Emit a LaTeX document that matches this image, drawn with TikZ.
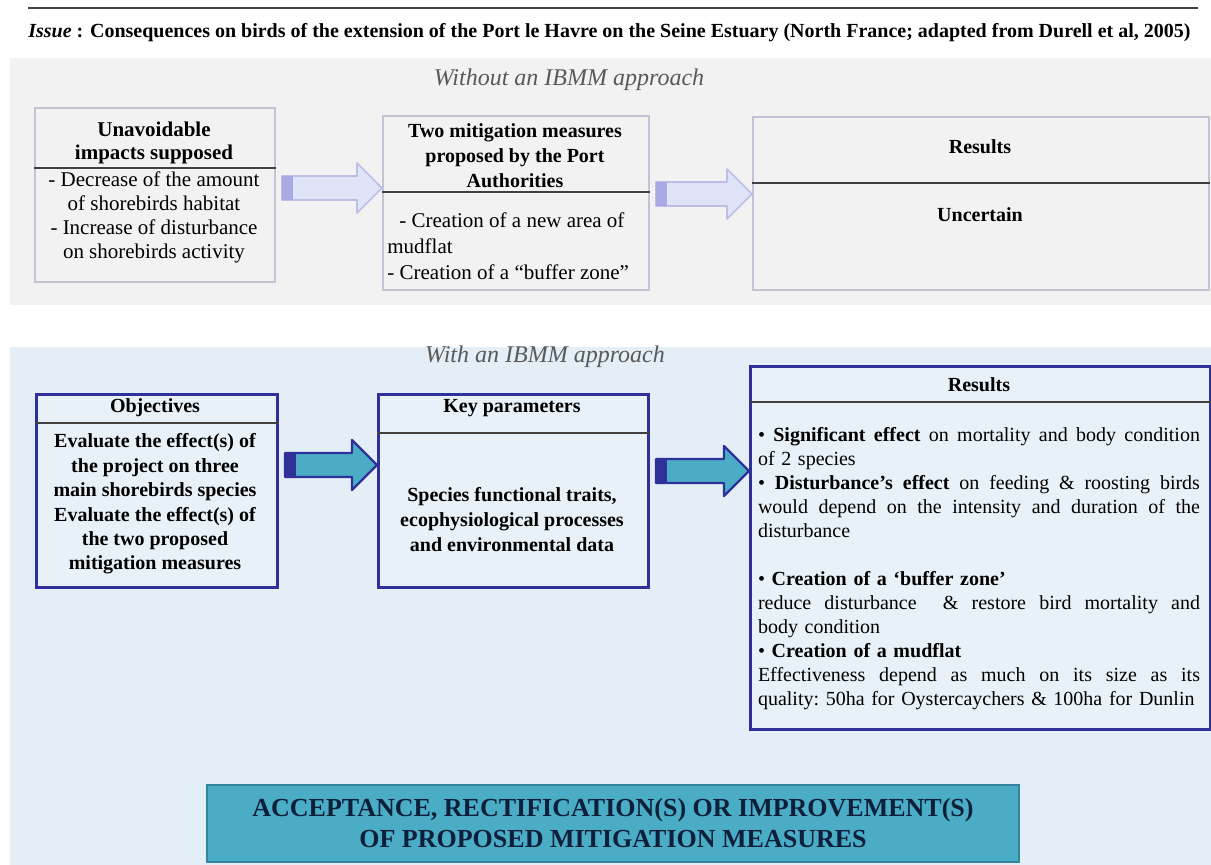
\documentclass[tikz,border=0pt]{standalone}
\usepackage{fontspec}
\setmainfont{Liberation Serif}
\usetikzlibrary{calc}
\definecolor{panelgray}{HTML}{F2F2F2}
\definecolor{panelblue}{HTML}{E3EEF6}
\definecolor{boxblue}{HTML}{E8F1F8}
\definecolor{graylilac}{HTML}{C3C3D6}
\definecolor{darkline}{HTML}{404040}
\definecolor{navyline}{HTML}{30309A}
\definecolor{accentteal}{HTML}{4BACC6}
\definecolor{darkteal}{HTML}{31849B}
\definecolor{lilacfill}{HTML}{DFE3F7}
\definecolor{lilacdraw}{HTML}{BDBDE6}
\definecolor{lilactail}{HTML}{A9A9E3}
\definecolor{headgray}{HTML}{595959}
\definecolor{accepttext}{HTML}{0E1F3A}
\newcommand\jline[1]{{\spaceskip=0pt\xspaceskip=0pt\makebox[221pt][s]{#1}}}

\begin{document}
\begin{tikzpicture}[x=0.5pt,y=-0.5pt]
	\tikzset{
		graybox/.style={rectangle, draw=graylilac, line width=1pt, fill=panelgray, anchor=north west, inner sep=0pt},
		bluebox/.style={rectangle, draw=navyline, line width=1.5pt, fill=boxblue, anchor=north west, inner sep=0pt},
		divider/.style={draw=darkline, line width=0.6pt},
		headtext/.style={align=center, inner sep=0pt, font=\bfseries\fontsize{10}{12}\selectfont},
		bodytext/.style={align=center, inner sep=0pt, font=\fontsize{10.5}{12}\selectfont},
		approach/.style={inner sep=0pt, text=headgray, font=\itshape\fontsize{12}{14}\selectfont},
		lightarrow/.style={draw=lilacdraw, line width=0.8pt, fill=lilacfill, line join=round},
		lighttail/.style={fill=lilactail},
		bluearrow/.style={draw=navyline, line width=1.2pt, fill=accentteal, line join=round},
		bluetail/.style={fill=navyline}
	}
	\newcommand\BlockArrow[4]{%
		\coordinate (bs) at ($(#2.east |- #4)+(6,0)$);
		\coordinate (bt) at (#3.west |- #4);
		\draw[#1arrow] ($(bs)+(0,-12)$) -- ($(bt)+(-25,-12)$) -- ($(bt)+(-25,-25)$) -- (bt)
			-- ($(bt)+(-25,25)$) -- ($(bt)+(-25,12)$) -- ($(bs)+(0,12)$) -- cycle;
		\fill[#1tail] ($(bs)+(0,-12)$) rectangle ($(bs)+(11,12)$);
	}
	\useasboundingbox (0,0) rectangle (1211,865);

	% background panels and heading
	\fill[panelgray] (10,58) rectangle (1211,305);
	\fill[panelblue] (10,347) rectangle (1211,865);
	\draw[darkline, line width=1pt] (28,8) -- (1198,8);
	\node[anchor=west, inner sep=0pt, font=\bfseries\fontsize{10}{12}\selectfont] (issue) at (28,33)
		{\textit{Issue} : Consequences on birds of the extension of the Port le Havre on the Seine Estuary (North France; adapted from Durell et al, 2005)};
	\node[approach] (without) at (569,80) {Without an IBMM approach};
	\node[approach] (with) at (545,357) {With an IBMM approach};

	% without IBMM
	\node[graybox, minimum width=120pt, minimum height=87pt] (unav) at (34,107) {};
	\draw[divider] ($(unav.north west)+(0,61)$) -- ($(unav.north east)+(0,61)$);
	\node[headtext, font=\bfseries\fontsize{10.5}{11.5}\selectfont] (unavhead) at (154,143) {Unavoidable\\impacts supposed};
	\node[bodytext] (unavbody) at (154,217) {- Decrease of the amount\\of shorebirds habitat\\- Increase of disturbance\\on shorebirds activity};

	\node[graybox, minimum width=133pt, minimum height=87pt] (mitig) at (382,115) {};
	\draw[divider] ($(mitig.north west)+(0,77)$) -- ($(mitig.north east)+(0,77)$);
	\node[headtext, font=\bfseries\fontsize{10}{12.5}\selectfont] (mitighead) at (515,156) {Two mitigation measures\\proposed by the Port\\Authorities};
	\node[bodytext, align=left, anchor=west, font=\fontsize{10.5}{13}\selectfont] (mitigbody) at (387,246)
		{\hspace{6pt}- Creation of a new area of\\mudflat\\- Creation of a “buffer zone”};

	\node[graybox, minimum width=228pt, minimum height=86.5pt] (resA) at (752,116) {};
	\draw[divider] ($(resA.north west)+(0,67)$) -- ($(resA.north east)+(0,67)$);
	\node[headtext] (resAhead) at (980,147) {Results};
	\node[headtext] (resAbody) at (980,215) {Uncertain};

	\coordinate (row1) at (0,188);
	\coordinate (row2) at (0,194);
	\BlockArrow{light}{unav}{mitig}{row1}
	\BlockArrow{light}{mitig}{resA}{row2}

	% with IBMM
	\node[bluebox, minimum width=120.5pt, minimum height=96.5pt] (obj) at (35,393) {};
	\draw[divider] ($(obj.north west)+(0,30)$) -- ($(obj.north east)+(0,30)$);
	\node[headtext] (objhead) at (155,408) {Objectives};
	\node[headtext, font=\bfseries\fontsize{10}{12.2}\selectfont] (objbody) at (155,504)
		{Evaluate the effect(s) of\\the project on three\\main shorebirds species\\Evaluate the effect(s) of\\the two proposed\\mitigation measures};

	\node[bluebox, minimum width=135pt, minimum height=96.5pt] (keyp) at (377,393) {};
	\draw[divider] ($(keyp.north west)+(0,40)$) -- ($(keyp.north east)+(0,40)$);
	\node[headtext] (keyhead) at (512,408) {Key parameters};
	\node[headtext, font=\bfseries\fontsize{10}{12.5}\selectfont] (keybody) at (512,520)
		{Species functional traits,\\ecophysiological processes\\and environmental data};

	\node[bluebox, minimum width=230pt, minimum height=181.5pt] (resB) at (749,365) {};
	\draw[divider] ($(resB.north west)+(0,37)$) -- ($(resB.north east)+(0,37)$);
	\node[headtext] (resBhead) at (979,385) {Results};
	\node[bodytext, align=left, text width=221pt, font=\fontsize{10}{12}\selectfont\frenchspacing] (resBbody) at (979,569)
		{\jline{• \textbf{Significant effect} on mortality and body condition}\\
		of 2 species\\
		\jline{• \textbf{Disturbance’s effect} on feeding \& roosting birds}\\
		\jline{would depend on the intensity and duration of the}\\
		disturbance\\[12pt]
		• \textbf{Creation of a ‘buffer zone’}\\
		\jline{reduce disturbance\ \ \& restore bird mortality and}\\
		body condition\\
		• \textbf{Creation of a mudflat}\\
		\jline{Effectiveness depend as much on its size as its}\\
		quality: 50ha for Oystercaychers \& 100ha for Dunlin};

	\coordinate (row3) at (0,465);
	\coordinate (row4) at (0,471);
	\BlockArrow{blue}{obj}{keyp}{row3}
	\BlockArrow{blue}{keyp}{resB}{row4}

	\node[rectangle, draw=darkteal, line width=1pt, fill=accentteal, minimum width=406pt, minimum height=38.5pt,
		align=center, text=accepttext, font=\bfseries\fontsize{13}{15.5}\selectfont] (accept) at (613,823.5)
		{ACCEPTANCE, RECTIFICATION(S) OR IMPROVEMENT(S)\\OF PROPOSED MITIGATION MEASURES};
\end{tikzpicture}
\end{document}
